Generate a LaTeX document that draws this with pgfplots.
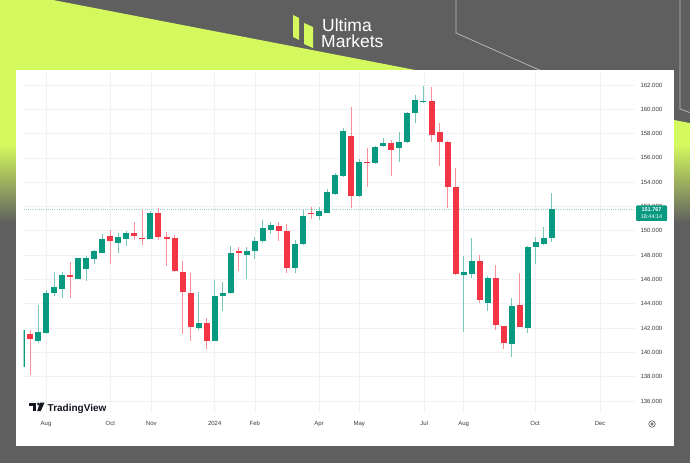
\documentclass[border=0pt]{standalone}
\usepackage{fontspec}
\setmainfont{Liberation Sans}
\usepackage{pgfplots}
\usepackage{pgfplotstable}
\pgfplotsset{compat=1.18}
\definecolor{bggrey}{HTML}{5F5F5F}
\definecolor{limec}{HTML}{D4F95E}
\definecolor{linec}{HTML}{BDBDBD}
\definecolor{upg}{HTML}{089981}
\definecolor{dnr}{HTML}{F23645}
\colorlet{wickg}{upg!55!white}
\colorlet{wickr}{dnr!55!white}
\definecolor{gridc}{HTML}{F0F1F4}
\definecolor{tickc}{HTML}{3C3C3C}
\definecolor{tvblack}{HTML}{131722}

\pgfplotstableread{
i o h l c
1 138.8 141.8 138.7 141.8
3 140.9 143.9 140.75 141.7
4 141.6 145.1 141.5 144.9
5 144.9 146.6 144.6 145.35
6 145.2 146.6 144.5 146.35
8 146.0 147.8 146.0 147.75
9 146.9 147.9 145.9 147.8
10 147.7 148.4 147.3 148.35
11 148.2 149.75 148.2 149.3
13 149.0 149.8 148.15 149.5
14 149.3 150.0 148.75 149.85
17 149.3 151.6 149.3 151.5
23 142.0 144.95 141.85 142.4
25 140.95 145.95 140.9 144.6
26 144.6 145.8 143.4 144.85
27 144.85 148.75 144.8 148.15
29 148.05 148.7 146.0 148.3
30 148.35 149.5 147.65 149.2
31 149.15 150.9 149.0 150.2
32 150.05 150.75 149.7 150.45
35 146.95 149.25 146.5 148.95
36 148.9 151.7 148.85 151.2
38 151.2 152.0 150.9 151.6
39 151.5 153.45 151.45 153.2
40 153.0 154.75 152.95 154.6
41 154.5 158.45 154.45 158.25
43 152.9 155.9 152.8 155.7
45 155.55 157.0 155.5 156.9
46 157.0 157.65 156.9 157.2
48 156.8 158.15 155.7 157.35
49 157.3 159.8 157.25 159.7
50 159.7 161.2 158.85 160.75
51 160.6 161.9 160.55 160.7
56 146.35 147.9 141.7 146.6
57 146.45 149.4 146.1 147.55
59 144.1 146.3 143.4 146.15
62 140.65 144.45 139.65 143.85
64 142.0 148.75 141.6 148.65
65 148.65 149.5 147.3 149.05
66 148.95 150.3 148.8 149.4
67 149.4 153.15 149.1 151.767
}\upt

\pgfplotstableread{
i o h l c
2 141.5 141.8 138.1 141.1
7 146.35 147.4 144.45 146.2
12 149.6 150.1 147.3 149.2
15 149.8 150.75 149.25 149.6
16 149.45 151.7 148.8 149.3
18 151.45 151.85 149.25 149.5
19 149.5 149.9 147.1 149.35
20 149.4 149.65 146.65 146.7
21 146.65 147.5 141.55 144.95
22 144.85 146.5 140.95 142.1
24 142.4 142.85 140.25 140.95
28 148.3 148.7 146.7 148.15
33 150.4 150.75 149.2 150.0
34 149.95 150.6 146.5 146.95
37 151.45 151.95 151.0 151.35
42 157.8 160.2 151.85 152.9
44 155.7 156.8 153.6 155.6
47 157.2 157.5 154.55 156.65
52 160.7 161.8 157.35 157.85
53 158.1 158.85 155.35 157.35
54 157.35 157.4 151.9 153.6
55 153.6 155.2 146.4 146.45
58 147.55 148.0 144.1 144.3
60 146.1 147.2 141.8 142.25
61 142.15 142.2 140.3 140.75
63 143.9 146.5 142.05 142.1
}\dnt

\begin{document}
\begin{tikzpicture}[x=1pt,y=1pt]
\useasboundingbox (0,0) rectangle (690,463);
\fill[bggrey] (0,0) rectangle (690,463);
\begin{scope}
\clip (0,463)--(53,463)--(690,339.9)--(690,0)--(0,0)--cycle;
\fill[limec] (0,318) rectangle (690,463);
\shade[top color=limec, bottom color=bggrey] (0,240) rectangle (690,318.5);
\end{scope}
\draw[linec, line width=0.7pt] (456,464)--(456,430)--(600,366);
\draw[linec, line width=0.7pt] (680,464)--(680,354)--(691,350);
% logo
\fill[limec] (293,448)--(299,445)--(299,423)--(293,426)--cycle;
\fill[limec] (304,440)--(313,436)--(313,415)--(304,419)--cycle;
\node[anchor=base west, white, inner sep=0pt, font=\fontsize{17.5}{20}\selectfont] at (322,431.5) {Ultima};
\node[anchor=base west, white, inner sep=0pt, font=\fontsize{17.5}{20}\selectfont] at (321,415.5) {Markets};
% panel
\fill[white] (16,17) rectangle (674,393);
\begin{axis}[
  at={(23.5pt,50pt)}, anchor=south west,
  scale only axis, width=611.5pt, height=341pt,
  xmin=1.19, xmax=77.34, ymin=135.01, ymax=163.07,
  axis line style={draw=none},
  major tick length=0pt,
  xtick={4,12,17.1,25,30,38,43,51.1,56,64.9,73},
  xticklabels={Aug,Oct,Nov,2024,Feb,Apr,May,Jul,Aug,Oct,Dec},
  ytick={136,138,...,162},
  yticklabel pos=right,
  grid=major,
  major grid style={draw=gridc, line width=0.7pt},
  ticklabel style={font=\fontsize{6}{7}\selectfont, text=tickc},
  xticklabel style={yshift=-5pt},
  yticklabel style={xshift=2pt, /pgf/number format/fixed, /pgf/number format/fixed zerofill, /pgf/number format/precision=3, /pgf/number format/1000 sep={}},
  /pgf/number format/assume math mode=true,
]
% price line
\addplot[upg!45!white, dash pattern=on 1pt off 1.2pt, line width=0.7pt, forget plot] coordinates {(1.19,151.767) (77.34,151.767)};
% wicks
\addplot[draw=none, forget plot, error bars/.cd, y dir=plus, y explicit, error mark=none,
  error bar style={draw=wickg, line width=1pt}]
  table[x=i, y=l, y error plus expr=\thisrow{h}-\thisrow{l}] {\upt};
\addplot[draw=none, forget plot, error bars/.cd, y dir=plus, y explicit, error mark=none,
  error bar style={draw=wickr, line width=1pt}]
  table[x=i, y=l, y error plus expr=\thisrow{h}-\thisrow{l}] {\dnt};
% bodies
\addplot[draw=none, forget plot, error bars/.cd, y dir=plus, y explicit, error mark=none,
  error bar style={draw=upg, line width=6pt}]
  table[x=i, y=o, y error plus expr={max(\thisrow{c}-\thisrow{o},0.1)}] {\upt};
\addplot[draw=none, forget plot, error bars/.cd, y dir=plus, y explicit, error mark=none,
  error bar style={draw=dnr, line width=6pt}]
  table[x=i, y=c, y error plus expr={max(\thisrow{o}-\thisrow{c},0.1)}] {\dnt};
\end{axis}
% price label box
\fill[upg, rounded corners=1pt] (636,242) rectangle (667,257.5);
\node[white, inner sep=0pt, font=\fontsize{5.5}{6}\selectfont\bfseries] at (651.5,253.5) {151.767};
\node[white, inner sep=0pt, font=\fontsize{5.5}{6}\selectfont] at (651.5,246.5) {18:44:14};
% TradingView logo
\fill[tvblack] (29,60.5) rectangle (36,57.5);
\fill[tvblack] (32.6,60.5) rectangle (35.6,52);
\fill[tvblack] (38.3,59) circle (1.5);
\fill[tvblack] (40,60.5)--(44.5,60.5)--(40.8,52)--(37.2,52)--cycle;
\node[anchor=base west, inner sep=0pt, text=tvblack, font=\fontsize{10}{12}\selectfont\bfseries] at (47.5,52) {TradingView};
% settings icon
\draw[tickc, line width=0.5pt] (652,39) circle (3.3);
\draw[tickc, line width=0.5pt] (652,39) circle (1.3);
\end{tikzpicture}
\end{document}
